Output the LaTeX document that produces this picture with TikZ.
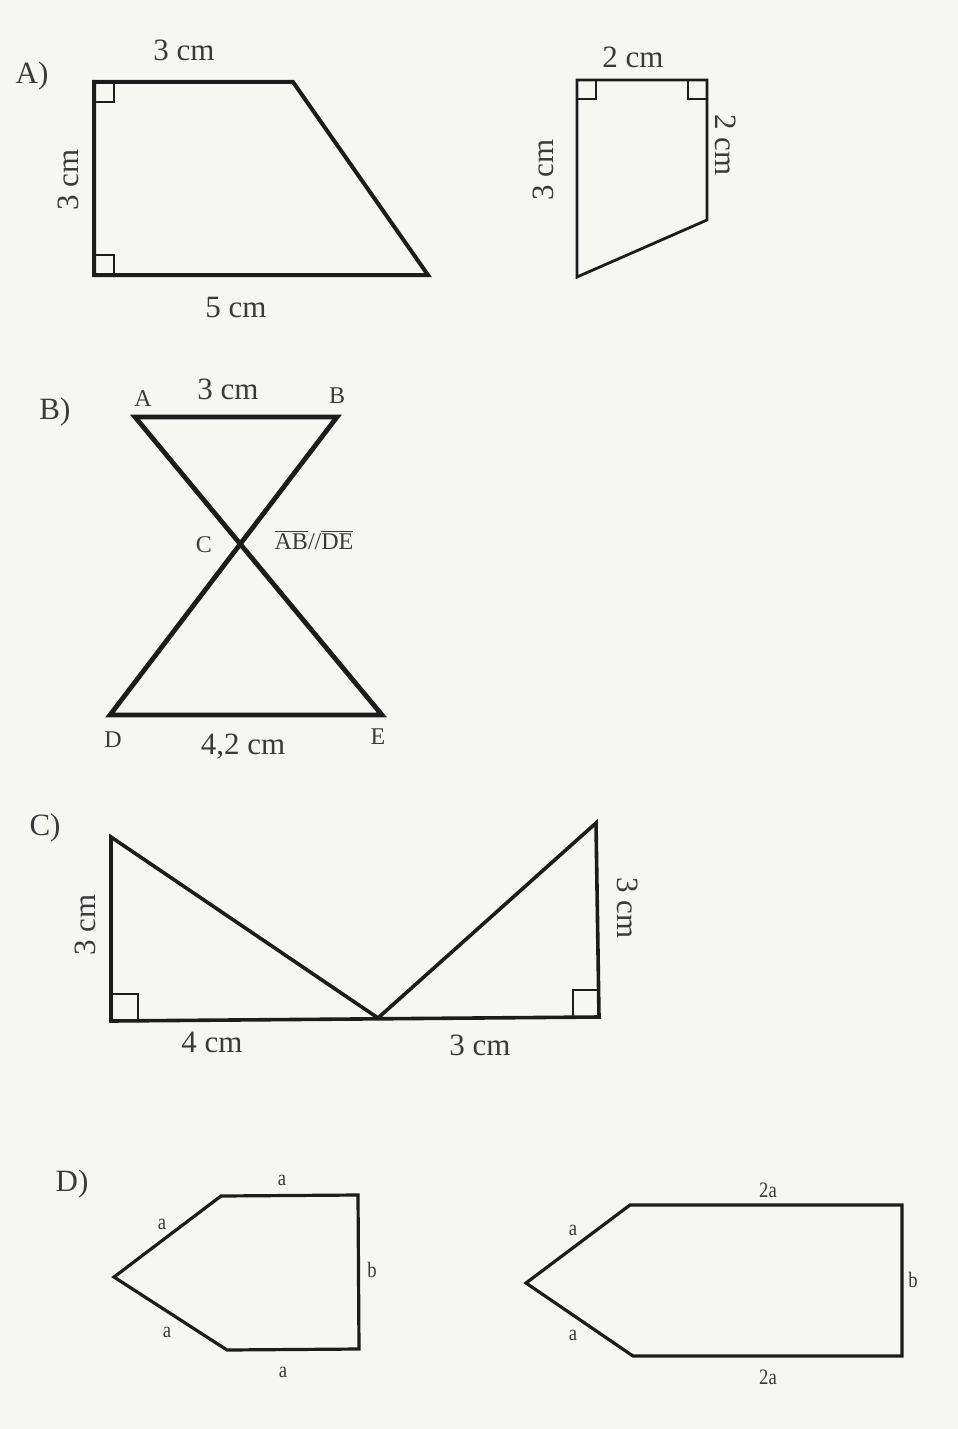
\documentclass[tikz,border=0pt]{standalone}
\usepackage{fontspec}
\setmainfont{Liberation Serif}
\definecolor{paper}{HTML}{F6F6F3}
\definecolor{ink}{HTML}{1C1C1C}
\definecolor{txt}{HTML}{3A3A3A}
\tikzset{
  fig/.style={draw=ink, line join=miter},
  ra/.style={draw=ink, line width=0.7pt},
  lbl/.style={text=txt, font=\fontsize{15.5}{17}\selectfont, inner sep=0pt},
  part/.style={text=txt, font=\fontsize{15.5}{17}\selectfont, inner sep=0pt},
  pt/.style={text=txt, font=\fontsize{12}{14}\selectfont, inner sep=0pt},
  small/.style={text=txt, font=\fontsize{11}{13}\selectfont, inner sep=0pt, xscale=0.85},
}
\begin{document}
\begin{tikzpicture}[x=0.5pt,y=-0.5pt]
\fill[paper] (0,0) rectangle (958,1429);
\useasboundingbox (0,0) rectangle (958,1429);

% ---------- A) ----------
\node[part] (labA) at (32,76) {A)};
\coordinate (a1) at (94,82);
\coordinate (a2) at (293,82);
\coordinate (a3) at (428,275);
\coordinate (a4) at (94,275);
\draw[fig, line width=2pt] (a1) -- (a2) -- (a3) -- (a4) -- cycle;
\draw[ra] (a1) ++(20,0) -- ++(0,20) -- ++(-20,0);
\draw[ra] (a4) ++(20,0) -- ++(0,-20) -- ++(-20,0);
\node[lbl] (a12) at (184,50) {3 cm};
\node[lbl, rotate=90] (a41) at (68,180) {3 cm};
\node[lbl] (a34) at (236,307) {5 cm};

\coordinate (q1) at (577,80);
\coordinate (q2) at (707,80);
\coordinate (q3) at (707,220);
\coordinate (q4) at (577,277);
\draw[fig, line width=1.4pt] (q1) -- (q2) -- (q3) -- (q4) -- cycle;
\draw[ra] (q1) ++(19,0) -- ++(0,19) -- ++(-19,0);
\draw[ra] (q2) ++(-19,0) -- ++(0,19) -- ++(19,0);
\node[lbl] (q12) at (633,57) {2 cm};
\node[lbl, rotate=90] (q41) at (543,170) {3 cm};
\node[lbl, rotate=-90] (q23) at (726,145) {2 cm};

% ---------- B) ----------
\node[part] (labB) at (55,412) {B)};
\coordinate (A) at (135,417);
\coordinate (B) at (337,417);
\coordinate (D) at (110,715);
\coordinate (E) at (382,715);
\draw[fig, line width=2.4pt] (A) -- (B) -- (D) -- (E) -- cycle;
\coordinate (C) at (240,543);
\node[pt] (nA) at (143,399) {A};
\node[pt] (nB) at (337,396) {B};
\node[pt] (nC) at (204,545) {C};
\node[pt] (nD) at (113,740) {D};
\node[pt] (nE) at (378,737) {E};
\node[lbl] (nAB) at (228,389) {3 cm};
\node[pt] (par) at (314,540) {$\overline{\hbox{AB}}$//$\overline{\hbox{DE}}$};
\node[lbl] (nDE) at (243,747) {4,2 cm};

% ---------- C) ----------
\node[part] (labC) at (45,828) {C)};
\coordinate (c1) at (111,837);
\coordinate (c2) at (111,1021);
\coordinate (c3) at (378,1018);
\coordinate (c4) at (599,1017);
\coordinate (c5) at (596,823);
\draw[fig, line width=1.8pt] (c1) -- (c2) -- (c4) -- (c5) -- (c3) -- cycle;
\draw[ra] (c2) ++(27,0) -- ++(0,-27) -- ++(-27,0);
\draw[ra] (c4) ++(-26,0) -- ++(0,-27) -- ++(26,0);
\node[lbl, rotate=90] (cl) at (85,925) {3 cm};
\node[lbl] (cb1) at (212,1042) {4 cm};
\node[lbl] (cb2) at (480,1045) {3 cm};
\node[lbl, rotate=-90] (cr) at (628,908) {3 cm};

% ---------- D) ----------
\node[part] (labD) at (72,1184) {D)};
\coordinate (d1) at (114,1277);
\coordinate (d2) at (221,1196);
\coordinate (d3) at (358,1195);
\coordinate (d4) at (359,1349);
\coordinate (d5) at (227,1350);
\draw[fig, line width=1.6pt] (d1) -- (d2) -- (d3) -- (d4) -- (d5) -- cycle;
\node[small] (dt) at (282,1180) {a};
\node[small] (dl1) at (162,1224) {a};
\node[small] (dr) at (372,1270) {b};
\node[small] (dl2) at (167,1332) {a};
\node[small] (db) at (283,1372) {a};

\coordinate (e1) at (526,1283);
\coordinate (e2) at (630,1205);
\coordinate (e3) at (902,1205);
\coordinate (e4) at (902,1356);
\coordinate (e5) at (633,1356);
\draw[fig, line width=1.6pt] (e1) -- (e2) -- (e3) -- (e4) -- (e5) -- cycle;
\node[small] (et) at (768,1190) {2a};
\node[small] (el1) at (573,1230) {a};
\node[small] (er) at (913,1280) {b};
\node[small] (el2) at (573,1335) {a};
\node[small] (eb) at (768,1377) {2a};
\end{tikzpicture}
\end{document}
